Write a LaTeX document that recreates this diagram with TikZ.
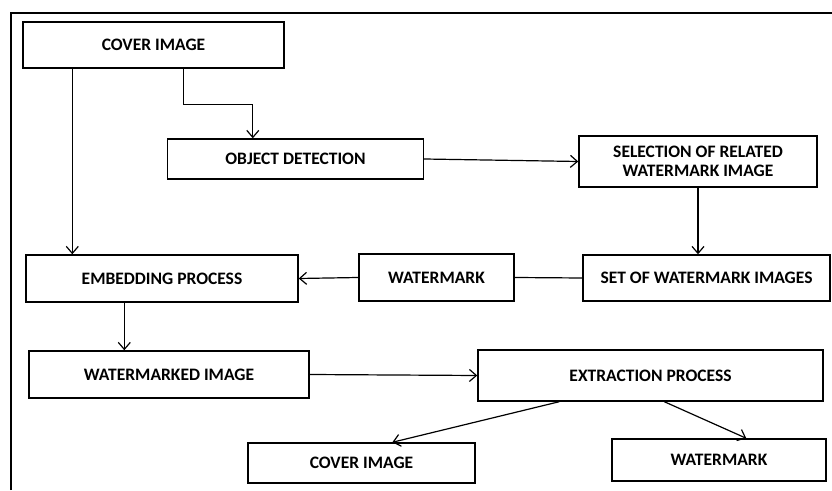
\documentclass[tikz,border=0pt]{standalone}
\usepackage{fontspec}
\setmainfont{Carlito}
\usetikzlibrary{arrows.meta,calc}

\tikzset{
  blk/.style={draw, line width=1.4pt, inner sep=0pt, align=center,
    font=\bfseries\fontsize{17.5}{19}\selectfont},
  link/.style={line width=1.2pt, -{Straight Barb[length=7pt,width=12pt,line width=1.2pt]}},
  plain/.style={line width=1.2pt}
}

\begin{document}
\begin{tikzpicture}[x=1pt,y=1pt]
        \useasboundingbox (0,0) rectangle (832,490);
        %\draw[help lines, step=50] (0,0) grid (832,490);
        \draw[line width=2pt] (11,0) -- (11,477) -- (832,477);

        \node[blk, minimum width=261pt, minimum height=46pt] (cover) at (153.5,445) {COVER IMAGE};
        \node[blk, minimum width=256pt, minimum height=40pt] (objdet) at (295.5,331) {OBJECT DETECTION};
        \node[blk, minimum width=238pt, minimum height=51pt] (select) at (698,328.5) {SELECTION OF RELATED\\WATERMARK IMAGE};
        \node[blk, minimum width=247pt, minimum height=46pt] (wmset) at (706.5,212) {SET OF WATERMARK IMAGES};
        \node[blk, minimum width=155pt, minimum height=47pt] (wmark) at (436.5,212.5) {WATERMARK};
        \node[blk, minimum width=272pt, minimum height=47pt] (embed) at (162,211.5) {EMBEDDING PROCESS};
        \node[blk, minimum width=280pt, minimum height=47pt] (wmarked) at (169,115.5) {WATERMARKED IMAGE};
        \node[blk, minimum width=345pt, minimum height=51pt] (extract) at (650.5,114.5) {EXTRACTION PROCESS};
        \node[blk, minimum width=227pt, minimum height=40pt] (coverout) at (361.5,27) {COVER IMAGE};
        \node[blk, minimum width=214pt, minimum height=42pt] (wmarkout) at (719,30) {WATERMARK};

        % top part
        \draw[link] ([xshift=50pt]cover.south west) -- ([xshift=50pt]cover.south west |- embed.north);
        \draw[link] ([xshift=161pt]cover.south west) -- ++(0,-36) -| ([xshift=86pt]objdet.north west);
        \draw[link] (objdet.east) -- (select.west);
        \draw[link] (select.south) -- (select.south |- wmset.north);

        % middle row
        \draw[plain] (wmset.west) -- (wmark.east);
        \draw[link] (wmark.west) -- (embed.east);
        \draw[link] ([xshift=99pt]embed.south west) -- ([xshift=99pt]embed.south west |- wmarked.north);
        \draw[link] (wmarked.east) -- (extract.west);

        % outputs
        \draw[link] ([xshift=82pt]extract.south west) -- ([xshift=145pt]coverout.north west);
        \draw[link] ([xshift=187pt]extract.south west) -- ([xshift=135pt]wmarkout.north west);
\end{tikzpicture}
\end{document}
